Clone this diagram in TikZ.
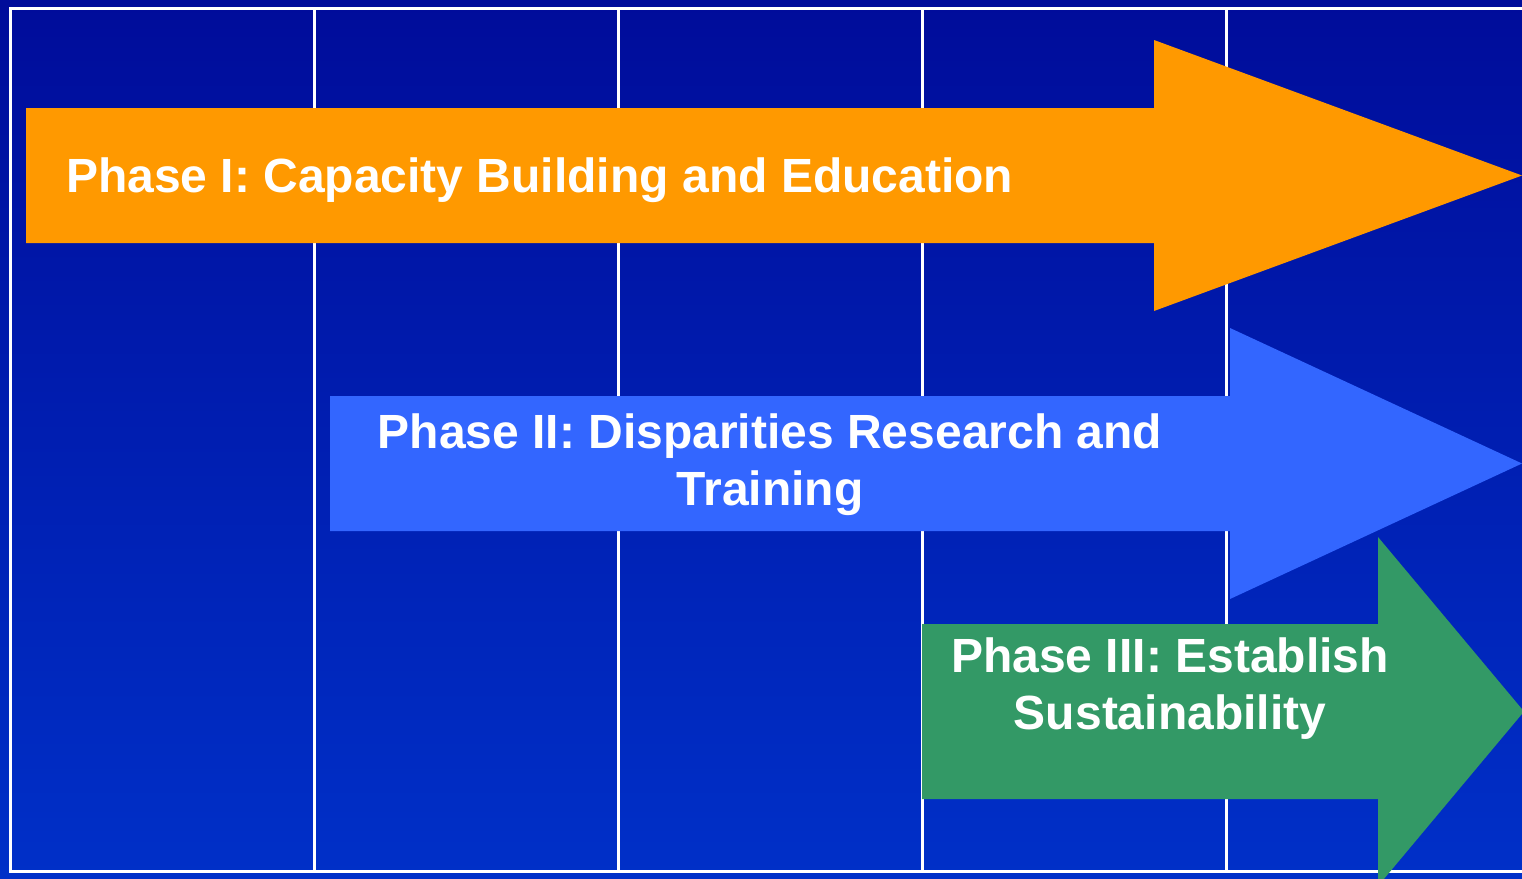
\documentclass[tikz,border=0pt]{standalone}
\usepackage{fontspec}
\setmainfont{Liberation Sans}
\definecolor{bgtop}{RGB}{0,12,154}
\definecolor{bgbot}{RGB}{0,48,200}
\definecolor{phaseorange}{RGB}{255,153,0}
\definecolor{phaseblue}{RGB}{51,102,255}
\definecolor{phasegreen}{RGB}{51,153,102}
\tikzset{
  gridline/.style={white, line width=3pt},
  phasearrow/.style={draw=none},
  phasetext/.style={text=white, font=\fontsize{48}{57}\selectfont\bfseries, inner sep=0pt, align=center}
}
\begin{document}
\begin{tikzpicture}[x=1pt, y=-1pt]
\useasboundingbox (0,0) rectangle (1522,878);
\shade[top color=bgtop, bottom color=bgbot] (0,0) rectangle (1522,878);
% grid
\draw[gridline] (9,8.5) -- (1522,8.5);
\draw[gridline] (9,871.5) -- (1522,871.5);
\foreach \x in {10.5,314.5,618.5,922.5,1226.5}
  \draw[gridline] (\x,8.5) -- (\x,871.5);
% Phase I arrow
\fill[phaseorange, phasearrow] (26,108) -- (1154,108) -- (1154,40) -- (1522,175.5) -- (1154,311) -- (1154,243) -- (26,243) -- cycle;
% Phase II arrow
\fill[phaseblue, phasearrow] (330,396) -- (1230,396) -- (1230,328) -- (1522,463.5) -- (1230,599) -- (1230,531) -- (330,531) -- cycle;
% Phase III arrow
\fill[phasegreen, phasearrow] (922,624) -- (1378,624) -- (1378,537) -- (1524,711.5) -- (1378,886) -- (1378,799) -- (922,799) -- cycle;
% texts
\node[phasetext, anchor=base west] (p1) at (66,192) {Phase I: Capacity Building and Education};
\node[phasetext, anchor=base] (p2) at (770,505) {Phase II: Disparities Research and\\Training};
\node[phasetext, anchor=base] (p3) at (1170,729) {Phase III: Establish\\Sustainability};
\end{tikzpicture}
\end{document}
